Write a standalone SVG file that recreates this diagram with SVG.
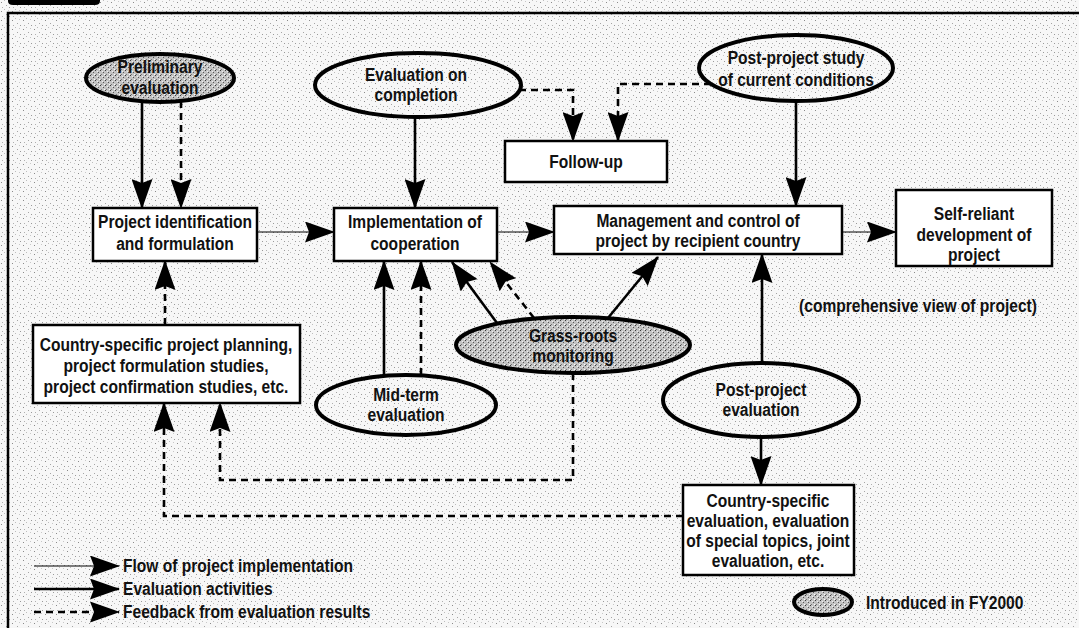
<svg xmlns="http://www.w3.org/2000/svg" width="1079" height="628" viewBox="0 0 1079 628">
<defs>
<pattern id="bg" width="11" height="9" patternUnits="userSpaceOnUse"><rect width="11" height="9" fill="#f7f7f7"/><rect x="1" y="2" width="1" height="1" fill="#8a8a8a"/><rect x="6" y="5" width="1" height="1" fill="#a5a5a5"/><rect x="4" y="0" width="1" height="1" fill="#bdbdbd"/><rect x="9" y="7" width="1" height="1" fill="#999"/><rect x="8" y="1" width="1" height="1" fill="#c8c8c8"/><rect x="2" y="7" width="1" height="1" fill="#b0b0b0"/></pattern>
<pattern id="shade" width="5" height="5" patternUnits="userSpaceOnUse"><rect width="5" height="5" fill="#c4c4c4"/><rect x="0" y="0" width="1" height="1" fill="#3a3a3a"/><rect x="3" y="2" width="1" height="1" fill="#555"/><rect x="1" y="4" width="1" height="1" fill="#777"/><rect x="4" y="4" width="1" height="1" fill="#fff"/><rect x="2" y="1" width="1" height="1" fill="#eee"/></pattern>
<marker id="ah" viewBox="0 0 30 21" refX="29" refY="10.5" markerWidth="30" markerHeight="21" markerUnits="userSpaceOnUse" orient="auto"><path d="M0,0 L30,10.5 L0,21 L4,10.5 Z" fill="#000"/></marker>
<style>
text{font-family:"Liberation Sans",Arial,sans-serif;font-weight:bold;font-size:19px;fill:#111;text-anchor:middle}
.box{fill:#fff;stroke:#000;stroke-width:2.5}
.ell{fill:url(#bg);stroke:#000;stroke-width:4}
.sh{fill:url(#shade);stroke:#000;stroke-width:4}
.flow{fill:none;stroke:#000;stroke-width:1.2;marker-end:url(#ah)}
.eval{fill:none;stroke:#000;stroke-width:2.6;marker-end:url(#ah)}
.fb{fill:none;stroke:#000;stroke-width:2.6;stroke-dasharray:7 5;marker-end:url(#ah)}
.lt{text-anchor:start}
</style>
</defs>
<rect width="1079" height="628" fill="url(#bg)"/>
<path d="M8,-5 H100 V1 Q100,5 95,5 H13 Q8,5 8,1 Z" fill="#000"/>
<rect x="8" y="13" width="1100" height="640" fill="none" stroke="#000" stroke-width="2.5"/>

<g id="connectors">
<path class="eval" d="M142,101 V208"/>
<path class="fb" d="M181,101 V208"/>
<path class="eval" d="M415,117 V208"/>
<path class="fb" d="M519,90 H573 V141"/>
<path class="fb" d="M711,84 H618 V141"/>
<path class="eval" d="M796,101 V206"/>
<path class="flow" d="M257,232 H334"/>
<path class="flow" d="M497,232 H554"/>
<path class="flow" d="M842,232 H896"/>
<path class="fb" d="M165,325 V261"/>
<path class="eval" d="M384,376 V261"/>
<path class="fb" d="M421,375 V261"/>
<path class="eval" d="M497,323 L452,262"/>
<path class="fb" d="M534,318 L490,262"/>
<path class="eval" d="M608,318 L658,257"/>
<path class="eval" d="M762,364 V254"/>
<path class="eval" d="M761,437 V485"/>
<path class="fb" d="M573,373 V480 H220 V403"/>
<path class="fb" d="M683,516 H164 V403"/>
</g>

<g id="preliminary">
<ellipse class="sh" cx="160" cy="78" rx="74" ry="24"/>
<text transform="translate(160,73) scale(.82,1)">Preliminary</text>
<text transform="translate(160,94) scale(.82,1)">evaluation</text>
</g>
<g id="eval-completion">
<ellipse class="ell" cx="418" cy="85" rx="103" ry="32"/>
<text transform="translate(416,81) scale(.82,1)">Evaluation on</text>
<text transform="translate(416,101) scale(.82,1)">completion</text>
</g>
<g id="post-study">
<ellipse class="ell" cx="796" cy="68" rx="97" ry="33"/>
<text transform="translate(796,64) scale(.82,1)">Post-project study</text>
<text transform="translate(796,86) scale(.82,1)">of current conditions</text>
</g>
<g id="follow-up">
<rect class="box" x="505" y="141" width="162" height="41"/>
<text transform="translate(586,168) scale(.82,1)">Follow-up</text>
</g>
<g id="project-id">
<rect class="box" x="93" y="208" width="164" height="53"/>
<text transform="translate(175,228) scale(.82,1)">Project identification</text>
<text transform="translate(175,250) scale(.82,1)">and formulation</text>
</g>
<g id="implementation">
<rect class="box" x="334" y="208" width="163" height="53"/>
<text transform="translate(415,228) scale(.82,1)">Implementation of</text>
<text transform="translate(415,250) scale(.82,1)">cooperation</text>
</g>
<g id="management">
<rect class="box" x="554" y="206" width="288" height="48"/>
<text transform="translate(698,227) scale(.82,1)">Management and control of</text>
<text transform="translate(698,247) scale(.82,1)">project by recipient country</text>
</g>
<g id="self-reliant">
<rect class="box" x="896" y="190" width="156" height="76"/>
<text transform="translate(974,220) scale(.82,1)">Self-reliant</text>
<text transform="translate(974,241) scale(.82,1)">development of</text>
<text transform="translate(974,261) scale(.82,1)">project</text>
</g>
<text id="comprehensive" transform="translate(918,312) scale(.82,1)">(comprehensive view of project)</text>
<g id="country-planning">
<rect class="box" x="33" y="325" width="267" height="78"/>
<text transform="translate(166,351) scale(.82,1)">Country-specific project planning,</text>
<text transform="translate(166,372) scale(.82,1)">project formulation studies,</text>
<text transform="translate(166,393) scale(.82,1)">project confirmation studies, etc.</text>
</g>
<g id="grass-roots">
<ellipse class="sh" cx="573" cy="345" rx="117" ry="28"/>
<text transform="translate(573,342) scale(.82,1)">Grass-roots</text>
<text transform="translate(573,362) scale(.82,1)">monitoring</text>
</g>
<g id="mid-term">
<ellipse class="ell" cx="406" cy="405" rx="90" ry="30"/>
<text transform="translate(406,401) scale(.82,1)">Mid-term</text>
<text transform="translate(406,421) scale(.82,1)">evaluation</text>
</g>
<g id="post-eval">
<ellipse class="ell" cx="761" cy="400" rx="98" ry="37"/>
<text transform="translate(761,396) scale(.82,1)">Post-project</text>
<text transform="translate(761,416) scale(.82,1)">evaluation</text>
</g>
<g id="country-eval">
<rect class="box" x="683" y="485" width="171" height="90"/>
<text transform="translate(768,507) scale(.82,1)">Country-specific</text>
<text transform="translate(768,527) scale(.82,1)">evaluation, evaluation</text>
<text transform="translate(768,547) scale(.82,1)">of special topics, joint</text>
<text transform="translate(768,567) scale(.82,1)">evaluation, etc.</text>
</g>
<g id="legend">
<path class="flow" d="M34,566 H119"/>
<text class="lt" transform="translate(123,572) scale(.82,1)">Flow of project implementation</text>
<path class="eval" d="M34,589 H119"/>
<text class="lt" transform="translate(123,595) scale(.82,1)">Evaluation activities</text>
<path class="fb" d="M34,612 H119"/>
<text class="lt" transform="translate(123,618) scale(.82,1)">Feedback from evaluation results</text>
<ellipse class="sh" cx="823" cy="602" rx="29" ry="13" stroke-width="3.5"/>
<text class="lt" transform="translate(866,609) scale(.82,1)">Introduced in FY2000</text>
</g>
</svg>
